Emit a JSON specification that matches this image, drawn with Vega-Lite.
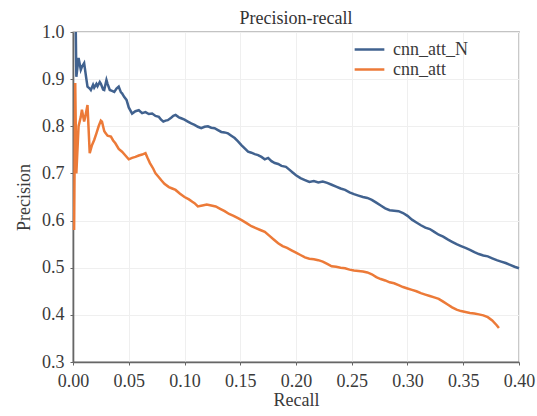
{
  "$schema": "https://vega.github.io/schema/vega-lite/v6.json",
  "autosize": {"type": "none"},
  "padding": {"left": 73, "top": 32, "right": 18, "bottom": 54},
  "width": 446,
  "height": 330,
  "background": "white",
  "title": {"text": "Precision-recall", "font": "'Liberation Serif', 'Times New Roman', 'DejaVu Serif', serif", "fontSize": 18, "fontWeight": "normal", "color": "#333", "anchor": "middle", "offset": -5},
  "config": {
    "view": {"stroke": "#888", "strokeWidth": 1.3},
    "axis": {"labelFont": "'Liberation Serif', 'Times New Roman', 'DejaVu Serif', serif", "titleFont": "'Liberation Serif', 'Times New Roman', 'DejaVu Serif', serif", "labelFontSize": 18, "titleFontSize": 18, "titleFontWeight": "normal", "labelColor": "#3a3a3a", "titleColor": "#3a3a3a", "gridColor": "#efefef", "gridWidth": 1, "domainColor": "#666", "domainWidth": 1.6, "tickColor": "#666", "tickSize": 3, "labelFlush": false}
  },
  "data": {"values": [
{"model":"cnn_att_N","recall":0.0025,"precision":1.0},
{"model":"cnn_att_N","recall":0.003,"precision":0.905},
{"model":"cnn_att_N","recall":0.005,"precision":0.945},
{"model":"cnn_att_N","recall":0.007,"precision":0.92},
{"model":"cnn_att_N","recall":0.008,"precision":0.926},
{"model":"cnn_att_N","recall":0.010,"precision":0.934},
{"model":"cnn_att_N","recall":0.012,"precision":0.90},
{"model":"cnn_att_N","recall":0.013,"precision":0.884},
{"model":"cnn_att_N","recall":0.015,"precision":0.88},
{"model":"cnn_att_N","recall":0.016,"precision":0.877},
{"model":"cnn_att_N","recall":0.018,"precision":0.888},
{"model":"cnn_att_N","recall":0.019,"precision":0.882},
{"model":"cnn_att_N","recall":0.021,"precision":0.89},
{"model":"cnn_att_N","recall":0.022,"precision":0.885},
{"model":"cnn_att_N","recall":0.024,"precision":0.894},
{"model":"cnn_att_N","recall":0.025,"precision":0.89},
{"model":"cnn_att_N","recall":0.027,"precision":0.878},
{"model":"cnn_att_N","recall":0.028,"precision":0.877},
{"model":"cnn_att_N","recall":0.030,"precision":0.898},
{"model":"cnn_att_N","recall":0.031,"precision":0.89},
{"model":"cnn_att_N","recall":0.033,"precision":0.877},
{"model":"cnn_att_N","recall":0.035,"precision":0.875},
{"model":"cnn_att_N","recall":0.037,"precision":0.873},
{"model":"cnn_att_N","recall":0.039,"precision":0.88},
{"model":"cnn_att_N","recall":0.041,"precision":0.884},
{"model":"cnn_att_N","recall":0.043,"precision":0.872},
{"model":"cnn_att_N","recall":0.044,"precision":0.87},
{"model":"cnn_att_N","recall":0.046,"precision":0.862},
{"model":"cnn_att_N","recall":0.048,"precision":0.856},
{"model":"cnn_att_N","recall":0.050,"precision":0.84},
{"model":"cnn_att_N","recall":0.053,"precision":0.827},
{"model":"cnn_att_N","recall":0.056,"precision":0.832},
{"model":"cnn_att_N","recall":0.059,"precision":0.834},
{"model":"cnn_att_N","recall":0.062,"precision":0.828},
{"model":"cnn_att_N","recall":0.065,"precision":0.83},
{"model":"cnn_att_N","recall":0.068,"precision":0.826},
{"model":"cnn_att_N","recall":0.071,"precision":0.827},
{"model":"cnn_att_N","recall":0.074,"precision":0.822},
{"model":"cnn_att_N","recall":0.077,"precision":0.82},
{"model":"cnn_att_N","recall":0.079,"precision":0.814},
{"model":"cnn_att_N","recall":0.081,"precision":0.81},
{"model":"cnn_att_N","recall":0.083,"precision":0.812},
{"model":"cnn_att_N","recall":0.085,"precision":0.813},
{"model":"cnn_att_N","recall":0.088,"precision":0.818},
{"model":"cnn_att_N","recall":0.090,"precision":0.822},
{"model":"cnn_att_N","recall":0.092,"precision":0.824},
{"model":"cnn_att_N","recall":0.095,"precision":0.819},
{"model":"cnn_att_N","recall":0.097,"precision":0.817},
{"model":"cnn_att_N","recall":0.100,"precision":0.814},
{"model":"cnn_att_N","recall":0.103,"precision":0.81},
{"model":"cnn_att_N","recall":0.106,"precision":0.806},
{"model":"cnn_att_N","recall":0.109,"precision":0.803},
{"model":"cnn_att_N","recall":0.112,"precision":0.799},
{"model":"cnn_att_N","recall":0.115,"precision":0.796},
{"model":"cnn_att_N","recall":0.118,"precision":0.799},
{"model":"cnn_att_N","recall":0.121,"precision":0.80},
{"model":"cnn_att_N","recall":0.124,"precision":0.797},
{"model":"cnn_att_N","recall":0.127,"precision":0.796},
{"model":"cnn_att_N","recall":0.130,"precision":0.792},
{"model":"cnn_att_N","recall":0.133,"precision":0.788},
{"model":"cnn_att_N","recall":0.136,"precision":0.787},
{"model":"cnn_att_N","recall":0.139,"precision":0.785},
{"model":"cnn_att_N","recall":0.142,"precision":0.78},
{"model":"cnn_att_N","recall":0.145,"precision":0.775},
{"model":"cnn_att_N","recall":0.148,"precision":0.768},
{"model":"cnn_att_N","recall":0.151,"precision":0.76},
{"model":"cnn_att_N","recall":0.154,"precision":0.753},
{"model":"cnn_att_N","recall":0.157,"precision":0.746},
{"model":"cnn_att_N","recall":0.160,"precision":0.744},
{"model":"cnn_att_N","recall":0.163,"precision":0.741},
{"model":"cnn_att_N","recall":0.166,"precision":0.739},
{"model":"cnn_att_N","recall":0.169,"precision":0.735},
{"model":"cnn_att_N","recall":0.172,"precision":0.73},
{"model":"cnn_att_N","recall":0.175,"precision":0.733},
{"model":"cnn_att_N","recall":0.178,"precision":0.726},
{"model":"cnn_att_N","recall":0.181,"precision":0.722},
{"model":"cnn_att_N","recall":0.184,"precision":0.72},
{"model":"cnn_att_N","recall":0.187,"precision":0.716},
{"model":"cnn_att_N","recall":0.191,"precision":0.714},
{"model":"cnn_att_N","recall":0.194,"precision":0.708},
{"model":"cnn_att_N","recall":0.197,"precision":0.702},
{"model":"cnn_att_N","recall":0.200,"precision":0.696},
{"model":"cnn_att_N","recall":0.204,"precision":0.69},
{"model":"cnn_att_N","recall":0.208,"precision":0.686},
{"model":"cnn_att_N","recall":0.212,"precision":0.682},
{"model":"cnn_att_N","recall":0.216,"precision":0.684},
{"model":"cnn_att_N","recall":0.220,"precision":0.681},
{"model":"cnn_att_N","recall":0.224,"precision":0.683},
{"model":"cnn_att_N","recall":0.228,"precision":0.68},
{"model":"cnn_att_N","recall":0.232,"precision":0.676},
{"model":"cnn_att_N","recall":0.236,"precision":0.672},
{"model":"cnn_att_N","recall":0.240,"precision":0.668},
{"model":"cnn_att_N","recall":0.244,"precision":0.665},
{"model":"cnn_att_N","recall":0.248,"precision":0.66},
{"model":"cnn_att_N","recall":0.252,"precision":0.656},
{"model":"cnn_att_N","recall":0.256,"precision":0.653},
{"model":"cnn_att_N","recall":0.260,"precision":0.65},
{"model":"cnn_att_N","recall":0.264,"precision":0.648},
{"model":"cnn_att_N","recall":0.268,"precision":0.644},
{"model":"cnn_att_N","recall":0.272,"precision":0.638},
{"model":"cnn_att_N","recall":0.276,"precision":0.632},
{"model":"cnn_att_N","recall":0.280,"precision":0.626},
{"model":"cnn_att_N","recall":0.284,"precision":0.622},
{"model":"cnn_att_N","recall":0.288,"precision":0.621},
{"model":"cnn_att_N","recall":0.292,"precision":0.62},
{"model":"cnn_att_N","recall":0.296,"precision":0.616},
{"model":"cnn_att_N","recall":0.300,"precision":0.61},
{"model":"cnn_att_N","recall":0.304,"precision":0.602},
{"model":"cnn_att_N","recall":0.308,"precision":0.596},
{"model":"cnn_att_N","recall":0.312,"precision":0.59},
{"model":"cnn_att_N","recall":0.316,"precision":0.585},
{"model":"cnn_att_N","recall":0.320,"precision":0.582},
{"model":"cnn_att_N","recall":0.324,"precision":0.576},
{"model":"cnn_att_N","recall":0.328,"precision":0.57},
{"model":"cnn_att_N","recall":0.332,"precision":0.566},
{"model":"cnn_att_N","recall":0.336,"precision":0.56},
{"model":"cnn_att_N","recall":0.340,"precision":0.555},
{"model":"cnn_att_N","recall":0.344,"precision":0.55},
{"model":"cnn_att_N","recall":0.348,"precision":0.546},
{"model":"cnn_att_N","recall":0.352,"precision":0.542},
{"model":"cnn_att_N","recall":0.356,"precision":0.538},
{"model":"cnn_att_N","recall":0.360,"precision":0.533},
{"model":"cnn_att_N","recall":0.364,"precision":0.529},
{"model":"cnn_att_N","recall":0.368,"precision":0.526},
{"model":"cnn_att_N","recall":0.372,"precision":0.524},
{"model":"cnn_att_N","recall":0.376,"precision":0.52},
{"model":"cnn_att_N","recall":0.380,"precision":0.516},
{"model":"cnn_att_N","recall":0.384,"precision":0.513},
{"model":"cnn_att_N","recall":0.388,"precision":0.51},
{"model":"cnn_att_N","recall":0.392,"precision":0.506},
{"model":"cnn_att_N","recall":0.396,"precision":0.502},
{"model":"cnn_att_N","recall":0.400,"precision":0.499},
{"model":"cnn_att","recall":0.001,"precision":0.58},
{"model":"cnn_att","recall":0.002,"precision":0.892},
{"model":"cnn_att","recall":0.003,"precision":0.70},
{"model":"cnn_att","recall":0.005,"precision":0.80},
{"model":"cnn_att","recall":0.007,"precision":0.82},
{"model":"cnn_att","recall":0.008,"precision":0.835},
{"model":"cnn_att","recall":0.010,"precision":0.81},
{"model":"cnn_att","recall":0.011,"precision":0.82},
{"model":"cnn_att","recall":0.013,"precision":0.845},
{"model":"cnn_att","recall":0.015,"precision":0.743},
{"model":"cnn_att","recall":0.017,"precision":0.76},
{"model":"cnn_att","recall":0.019,"precision":0.771},
{"model":"cnn_att","recall":0.021,"precision":0.785},
{"model":"cnn_att","recall":0.023,"precision":0.80},
{"model":"cnn_att","recall":0.025,"precision":0.812},
{"model":"cnn_att","recall":0.026,"precision":0.81},
{"model":"cnn_att","recall":0.028,"precision":0.79},
{"model":"cnn_att","recall":0.029,"precision":0.786},
{"model":"cnn_att","recall":0.031,"precision":0.78},
{"model":"cnn_att","recall":0.034,"precision":0.778},
{"model":"cnn_att","recall":0.036,"precision":0.77},
{"model":"cnn_att","recall":0.038,"precision":0.764},
{"model":"cnn_att","recall":0.041,"precision":0.752},
{"model":"cnn_att","recall":0.044,"precision":0.746},
{"model":"cnn_att","recall":0.047,"precision":0.738},
{"model":"cnn_att","recall":0.050,"precision":0.73},
{"model":"cnn_att","recall":0.053,"precision":0.733},
{"model":"cnn_att","recall":0.056,"precision":0.735},
{"model":"cnn_att","recall":0.059,"precision":0.738},
{"model":"cnn_att","recall":0.062,"precision":0.74},
{"model":"cnn_att","recall":0.065,"precision":0.743},
{"model":"cnn_att","recall":0.067,"precision":0.732},
{"model":"cnn_att","recall":0.069,"precision":0.722},
{"model":"cnn_att","recall":0.072,"precision":0.71},
{"model":"cnn_att","recall":0.074,"precision":0.70},
{"model":"cnn_att","recall":0.077,"precision":0.692},
{"model":"cnn_att","recall":0.079,"precision":0.686},
{"model":"cnn_att","recall":0.082,"precision":0.678},
{"model":"cnn_att","recall":0.086,"precision":0.671},
{"model":"cnn_att","recall":0.089,"precision":0.668},
{"model":"cnn_att","recall":0.092,"precision":0.665},
{"model":"cnn_att","recall":0.096,"precision":0.657},
{"model":"cnn_att","recall":0.100,"precision":0.65},
{"model":"cnn_att","recall":0.104,"precision":0.645},
{"model":"cnn_att","recall":0.107,"precision":0.64},
{"model":"cnn_att","recall":0.109,"precision":0.637},
{"model":"cnn_att","recall":0.112,"precision":0.63},
{"model":"cnn_att","recall":0.116,"precision":0.632},
{"model":"cnn_att","recall":0.120,"precision":0.634},
{"model":"cnn_att","recall":0.124,"precision":0.632},
{"model":"cnn_att","recall":0.128,"precision":0.63},
{"model":"cnn_att","recall":0.132,"precision":0.625},
{"model":"cnn_att","recall":0.136,"precision":0.62},
{"model":"cnn_att","recall":0.140,"precision":0.614},
{"model":"cnn_att","recall":0.144,"precision":0.61},
{"model":"cnn_att","recall":0.148,"precision":0.605},
{"model":"cnn_att","recall":0.152,"precision":0.60},
{"model":"cnn_att","recall":0.156,"precision":0.594},
{"model":"cnn_att","recall":0.160,"precision":0.588},
{"model":"cnn_att","recall":0.164,"precision":0.584},
{"model":"cnn_att","recall":0.168,"precision":0.58},
{"model":"cnn_att","recall":0.172,"precision":0.576},
{"model":"cnn_att","recall":0.176,"precision":0.568},
{"model":"cnn_att","recall":0.180,"precision":0.56},
{"model":"cnn_att","recall":0.184,"precision":0.552},
{"model":"cnn_att","recall":0.188,"precision":0.546},
{"model":"cnn_att","recall":0.192,"precision":0.542},
{"model":"cnn_att","recall":0.196,"precision":0.537},
{"model":"cnn_att","recall":0.200,"precision":0.532},
{"model":"cnn_att","recall":0.204,"precision":0.527},
{"model":"cnn_att","recall":0.208,"precision":0.522},
{"model":"cnn_att","recall":0.212,"precision":0.519},
{"model":"cnn_att","recall":0.216,"precision":0.518},
{"model":"cnn_att","recall":0.220,"precision":0.516},
{"model":"cnn_att","recall":0.224,"precision":0.513},
{"model":"cnn_att","recall":0.228,"precision":0.508},
{"model":"cnn_att","recall":0.232,"precision":0.503},
{"model":"cnn_att","recall":0.236,"precision":0.502},
{"model":"cnn_att","recall":0.240,"precision":0.50},
{"model":"cnn_att","recall":0.244,"precision":0.499},
{"model":"cnn_att","recall":0.248,"precision":0.496},
{"model":"cnn_att","recall":0.252,"precision":0.494},
{"model":"cnn_att","recall":0.256,"precision":0.493},
{"model":"cnn_att","recall":0.260,"precision":0.492},
{"model":"cnn_att","recall":0.264,"precision":0.49},
{"model":"cnn_att","recall":0.268,"precision":0.486},
{"model":"cnn_att","recall":0.272,"precision":0.48},
{"model":"cnn_att","recall":0.276,"precision":0.476},
{"model":"cnn_att","recall":0.280,"precision":0.473},
{"model":"cnn_att","recall":0.284,"precision":0.469},
{"model":"cnn_att","recall":0.288,"precision":0.467},
{"model":"cnn_att","recall":0.292,"precision":0.463},
{"model":"cnn_att","recall":0.296,"precision":0.459},
{"model":"cnn_att","recall":0.300,"precision":0.456},
{"model":"cnn_att","recall":0.304,"precision":0.453},
{"model":"cnn_att","recall":0.308,"precision":0.45},
{"model":"cnn_att","recall":0.312,"precision":0.446},
{"model":"cnn_att","recall":0.316,"precision":0.443},
{"model":"cnn_att","recall":0.320,"precision":0.44},
{"model":"cnn_att","recall":0.324,"precision":0.437},
{"model":"cnn_att","recall":0.328,"precision":0.434},
{"model":"cnn_att","recall":0.332,"precision":0.428},
{"model":"cnn_att","recall":0.336,"precision":0.422},
{"model":"cnn_att","recall":0.340,"precision":0.416},
{"model":"cnn_att","recall":0.344,"precision":0.411},
{"model":"cnn_att","recall":0.348,"precision":0.408},
{"model":"cnn_att","recall":0.352,"precision":0.406},
{"model":"cnn_att","recall":0.356,"precision":0.404},
{"model":"cnn_att","recall":0.360,"precision":0.403},
{"model":"cnn_att","recall":0.364,"precision":0.401},
{"model":"cnn_att","recall":0.368,"precision":0.399},
{"model":"cnn_att","recall":0.372,"precision":0.395},
{"model":"cnn_att","recall":0.376,"precision":0.388},
{"model":"cnn_att","recall":0.380,"precision":0.378},
{"model":"cnn_att","recall":0.382,"precision":0.372}
  ]},
  "mark": {"type": "line", "strokeWidth": 2.5, "interpolate": "linear"},
  "encoding": {
    "x": {"field": "recall", "type": "quantitative", "title": "Recall",
          "scale": {"domain": [0, 0.4], "nice": false, "zero": false},
          "axis": {"values": [0, 0.05, 0.1, 0.15, 0.2, 0.25, 0.3, 0.35, 0.4], "format": ".2f", "labelPadding": 7, "titlePadding": 1}},
    "y": {"field": "precision", "type": "quantitative", "title": "Precision",
          "scale": {"domain": [0.3, 1.0], "nice": false, "zero": false},
          "axis": {"values": [0.3, 0.4, 0.5, 0.6, 0.7, 0.8, 0.9, 1.0], "format": ".1f", "labelPadding": 6, "titlePadding": 8}},
    "color": {"field": "model", "type": "nominal",
              "scale": {"domain": ["cnn_att_N", "cnn_att"], "range": ["#41628f", "#ec7a38"]},
              "legend": {"title": null, "orient": "none", "legendX": 286, "legendY": 7, "symbolType": "M-1.65,0H1.65", "symbolSize": 324, "symbolStrokeWidth": 2.5, "labelFont": "'Liberation Serif', 'Times New Roman', 'DejaVu Serif', serif", "labelFontSize": 18, "labelColor": "#3a3a3a", "rowPadding": 0, "labelOffset": 13}}
  }
}
